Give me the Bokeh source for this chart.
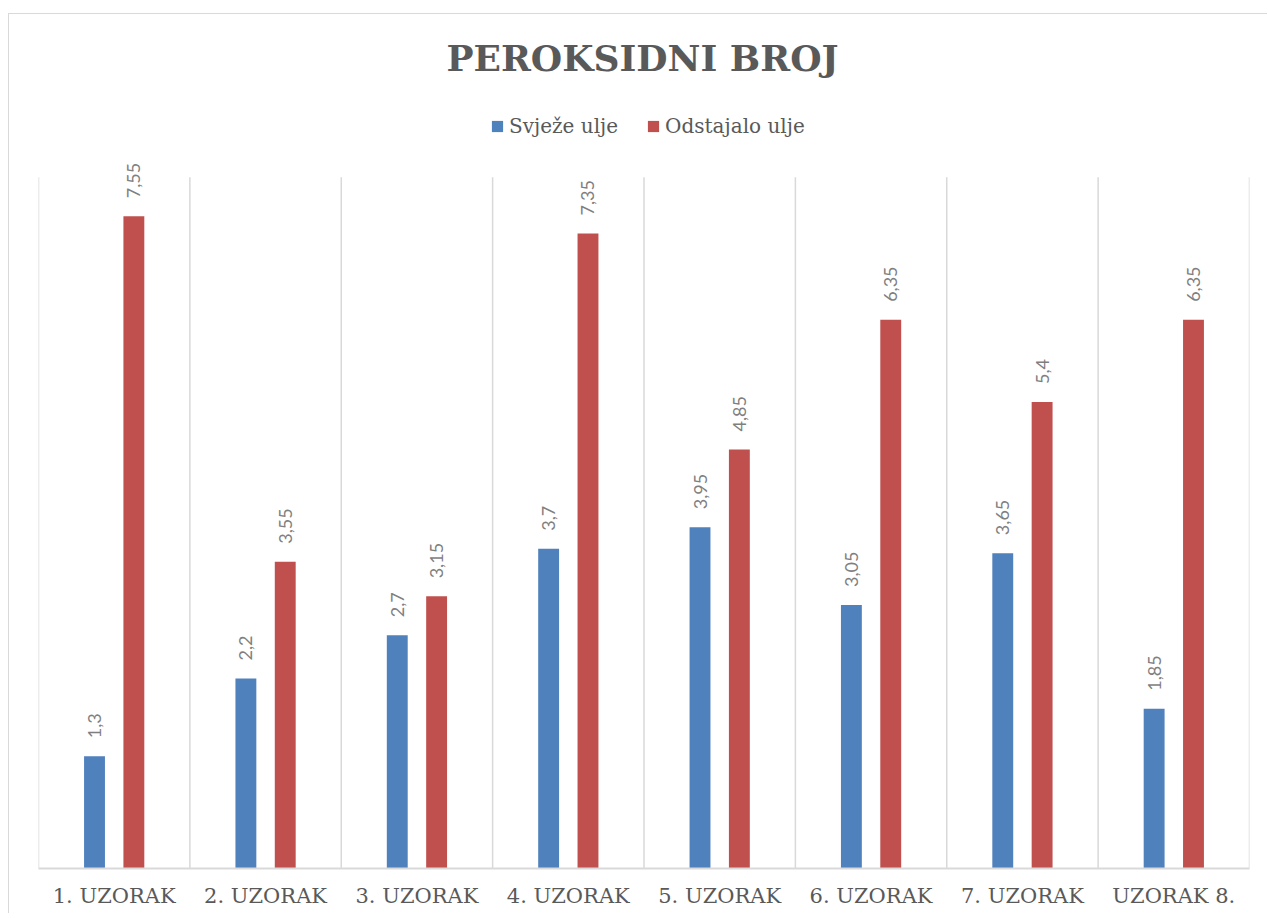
import math
from bokeh.plotting import figure
from bokeh.models import ColumnDataSource, Legend, LegendItem, Label, Range1d
from bokeh.transform import dodge
from bokeh.embed import file_html
from bokeh.resources import INLINE
from bokeh.core.properties import value

# ---- data ----
categories = ["1. UZORAK", "2. UZORAK", "3. UZORAK", "4. UZORAK",
              "5. UZORAK", "6. UZORAK", "7. UZORAK", "UZORAK 8."]
svjeze_ulje = [1.3, 2.2, 2.7, 3.7, 3.95, 3.05, 3.65, 1.85]
odstajalo_ulje = [7.55, 3.55, 3.15, 7.35, 4.85, 6.35, 5.4, 6.35]
series_names = ["Svježe ulje", "Odstajalo ulje"]
series_colors = ["#4f81bd", "#c0504d"]
title_text = "PEROKSIDNI BROJ"
y_max = 8


def fmt(v):
    return ("%g" % v).replace(".", ",")


source = ColumnDataSource(dict(
    cat=categories,
    s1=svjeze_ulje,
    s2=odstajalo_ulje,
    l1=[fmt(v) for v in svjeze_ulje],
    l2=[fmt(v) for v in odstajalo_ulje],
))

p = figure(
    x_range=categories,
    y_range=Range1d(0, 9.884),
    width=1259, height=900,
    output_backend="svg",
    toolbar_location=None,
    min_border_left=29, min_border_right=19,
    min_border_top=0, min_border_bottom=46,
    background_fill_color="white", border_fill_color="white",
    outline_line_color=None,
)
p.x_range.range_padding = 0

# category separators (from 0 to the top of the value scale)
bounds = list(range(len(categories) + 1))
p.segment(x0=bounds, x1=bounds, y0=[0] * len(bounds), y1=[y_max] * len(bounds),
          line_color="#d9d9d9", line_width=1.5)

off = 0.13
bw = 0.138
r1 = p.vbar(x=dodge("cat", -off, range=p.x_range), top="s1", width=bw, bottom=0,
            source=source, fill_color=series_colors[0], line_color=None)
r2 = p.vbar(x=dodge("cat", off, range=p.x_range), top="s2", width=bw, bottom=0,
            source=source, fill_color=series_colors[1], line_color=None)

for col, lab, o in (("s1", "l1", -off), ("s2", "l2", off)):
    p.text(x=dodge("cat", o, range=p.x_range), y=col, text=lab, source=source,
           angle=math.pi / 2, text_align="left", text_baseline="middle",
           y_offset=-18, text_font=value("Lato"), text_font_size="18px",
           text_color="#7f7f7f")

p.xgrid.visible = False
p.ygrid.visible = False
p.yaxis.visible = False

ax = p.xaxis[0]
ax.axis_line_color = "#d9d9d9"
ax.axis_line_width = 2
ax.major_tick_line_color = None
ax.minor_tick_line_color = None
ax.major_label_text_font = "DejaVu Serif"
ax.major_label_text_font_size = "21px"
ax.major_label_text_color = "#595959"
ax.major_label_standoff = 9

title = Label(x=604, y=811, x_units="screen", y_units="screen",
              text=title_text, text_align="center", text_baseline="alphabetic",
              text_font="DejaVu Serif", text_font_style="bold",
              text_font_size="36px", text_color="#595959")
p.add_layout(title)

legend = Legend(
    items=[LegendItem(label=series_names[0], renderers=[r1]),
           LegendItem(label=series_names[1], renderers=[r2])],
    orientation="horizontal", location=(452, 730),
    label_text_font="DejaVu Serif", label_text_font_size="20px",
    label_text_color="#595959",
    glyph_width=14, glyph_height=14, label_standoff=5, spacing=28,
    border_line_color=None, background_fill_alpha=0,
    margin=0, padding=0,
)
p.add_layout(legend)

# chart-area border (top and left edges visible in the reference)
p.styles = {"margin-top": "13px", "margin-left": "8px",
            "border-top": "1px solid #d9d9d9", "border-left": "1px solid #d9d9d9"}

open("out.html", "w").write(file_html(p, INLINE))
